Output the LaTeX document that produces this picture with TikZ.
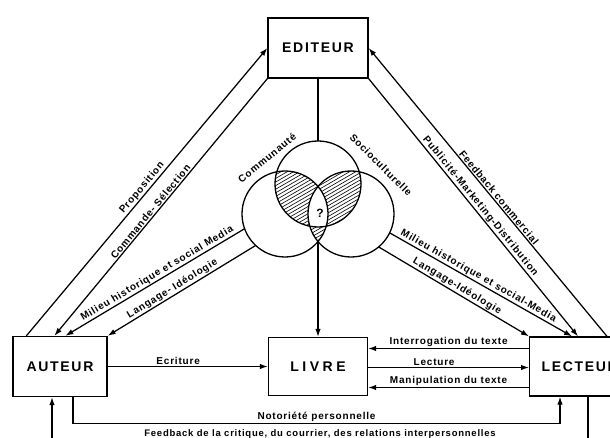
\documentclass[tikz,border=0pt]{standalone}
\usepackage{fontspec}
\setmainfont{Liberation Sans}
\newfontfamily\boxfont{Liberation Sans}[LetterSpace=12]
\newfontfamily\lblfont{Liberation Sans}[LetterSpace=8]
\usetikzlibrary{arrows.meta}

\begin{document}
\begin{tikzpicture}[
  x=1pt, y=-1pt,
  >={Latex[length=8pt,width=5.5pt]},
  box/.style={draw, line width=1.3pt, minimum height=60pt, align=center, font=\boxfont\bfseries\fontsize{14}{16}\selectfont},
  circ/.style={draw, circle, line width=1.3pt, minimum size=86pt, inner sep=0pt, outer sep=0pt},
  edge/.style={->, line width=1.25pt},
  link/.style={line width=1.25pt},
  lbl/.style={font=\lblfont\bfseries\fontsize{10}{12}\selectfont, inner sep=1pt},
  hatch/.style={line width=0.6pt}
]
  \useasboundingbox (0,0) rectangle (610,438);
  \clip (0,0) rectangle (610,438);

  \node[box, minimum width=100pt] (editeur) at (318,48) {EDITEUR};
  \node[box, minimum width=94pt] (auteur) at (60,366.5) {AUTEUR};
  \node[box, minimum width=99pt, minimum height=58pt] (livre) at (318,366.5) {\addfontfeature{LetterSpace=25}LIVRE};
  \node[box, anchor=west, inner xsep=12pt, text width=84pt, align=left, minimum height=59pt] (lecteur) at (529,366.5) {LECTEUR};

  \coordinate (ct) at (318,184);
  \coordinate (cl) at (285,214);
  \coordinate (cr) at (351,214);
  \foreach \a/\b in {ct/cl, ct/cr, cl/cr} {
    \begin{scope}
      \clip (\a) circle[radius=43];
      \clip (\b) circle[radius=43];
      \foreach \k in {0,...,68}
        \draw[hatch] (230,{140+3.6*\k}) -- ++(180,-104);
    \end{scope}
  }
  \begin{scope}
    \clip (ct) circle[radius=43];
    \clip (cl) circle[radius=43];
    \fill[white] (cr) circle[radius=43];
  \end{scope}
  \node[circ] (ctop) at (ct) {};
  \node[circ] (cleft) at (cl) {};
  \node[circ] (cright) at (cr) {};
  \coordinate (cbot) at (318,241.6);
  \node[font=\bfseries\fontsize{12}{13}\selectfont, inner sep=0pt] (quest) at (320,213) {?};
  \node[lbl, rotate=39] (commu) at (267,158) {Communauté};
  \node[lbl, rotate=-45] (socio) at (381,165) {Socioculturelle};

  \draw[link] (editeur.south) -- (ctop.north);
  \draw[edge] (cbot) -- (livre.north);

  \draw[edge] ([xshift=14pt]auteur.north west) -- node[lbl, sloped, above] {Proposition} (editeur.west);
  \draw[edge] (editeur.south west) -- node[lbl, sloped, above, pos=0.53] {Commande- Sélection} ([xshift=42pt]auteur.north west);
  \draw[edge] (cleft.200) -- node[lbl, sloped, above, pos=0.47] {Milieu historique et social Media} ([xshift=53pt]auteur.north west);
  \draw[edge] (cleft.227) -- node[lbl, sloped, above, pos=0.54] {Langage- Idéologie} (auteur.north east);

  \draw[edge] ([xshift=78pt]lecteur.north west) -- node[lbl, sloped, above, pos=0.47] {Feedback commercial} (editeur.east);
  \draw[edge] (editeur.south east) -- node[lbl, sloped, above, pos=0.51] {Publicité-Marketing-Distribution} ([xshift=49pt]lecteur.north west);
  \draw[edge] (cright.334) -- node[lbl, sloped, above, pos=0.47] {Milieu historique et social-Media} ([xshift=43pt]lecteur.north west);
  \draw[edge] (cright.310) -- node[lbl, sloped, above] {Langage-Idéologie} (lecteur.north west);

  \draw[edge] (auteur) -- node[lbl, above, pos=0.44] {Ecriture} (livre);
  \draw[edge] ([yshift=18pt]lecteur.west) -- node[lbl, above] {Interrogation du texte} ([yshift=18pt]livre.east);
  \draw[edge] ([yshift=-1pt]livre.east) -- node[lbl, above, pos=0.41] {Lecture} ([yshift=-1pt]lecteur.west);
  \draw[edge] ([yshift=-21pt]lecteur.west) -- node[lbl, above] {Manipulation du texte} ([yshift=-21pt]livre.east);

  \draw[edge] ([xshift=13pt]auteur.south) -- ++(0,26) -| node[lbl, above, pos=0.25] {Notoriété personnelle} ([xshift=31pt]lecteur.south west);
  \draw[edge] ([xshift=59pt]lecteur.south west) -- ++(0,46) -| node[lbl, above=3pt, pos=0.25, font=\lblfont\bfseries\fontsize{9.5}{11}\selectfont] {Feedback de la critique, du courrier, des relations interpersonnelles} ([xshift=-8pt]auteur.south);
\end{tikzpicture}
\end{document}
